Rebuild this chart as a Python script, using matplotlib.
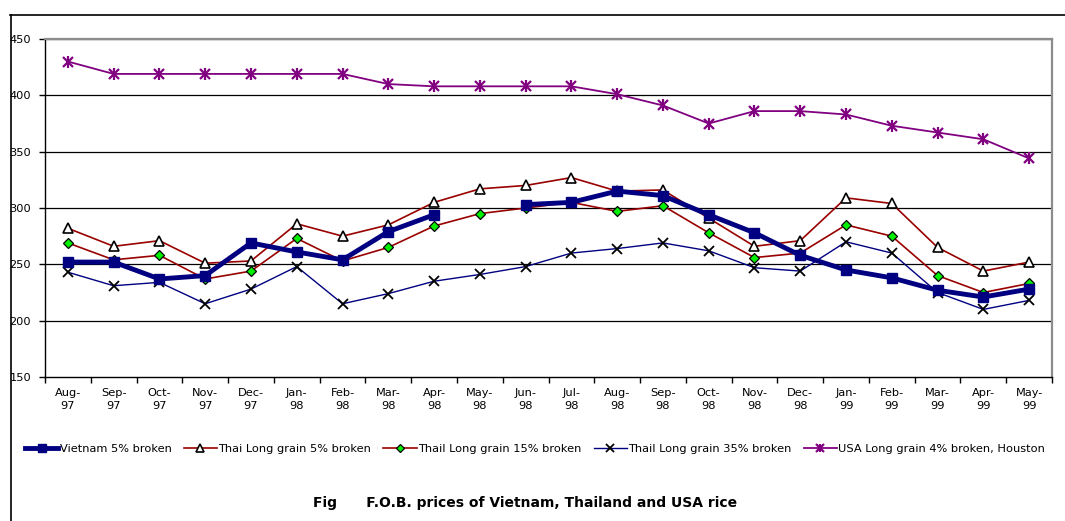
import numpy as np
import matplotlib
matplotlib.use("Agg")
import matplotlib.pyplot as plt
from matplotlib.lines import Line2D
from matplotlib.legend_handler import HandlerTuple

plt.rcParams['font.family'] = ['DejaVu Sans']

months = ["Aug-\n97", "Sep-\n97", "Oct-\n97", "Nov-\n97", "Dec-\n97",
          "Jan-\n98", "Feb-\n98", "Mar-\n98", "Apr-\n98", "May-\n98",
          "Jun-\n98", "Jul-\n98", "Aug-\n98", "Sep-\n98", "Oct-\n98",
          "Nov-\n98", "Dec-\n98", "Jan-\n99", "Feb-\n99", "Mar-\n99",
          "Apr-\n99", "May-\n99"]

vietnam_5 = [252, 252, 237, 240, 269, 261, 254, 279, 294, np.nan, 303, 305,
             315, 311, 294, 278, 258, 245, 238, 227, 221, 228]
thai_5 = [282, 266, 271, 251, 253, 286, 275, 285, 305, 317, 320, 327,
          315, 316, 291, 266, 271, 309, 304, 265, 244, 252]
thai_15 = [269, 254, 258, 237, 244, 273, 253, 265, 284, 295, 300, 305,
           297, 302, 278, 256, 260, 285, 275, 240, 225, 233]
thai_35 = [243, 231, 234, 215, 228, 248, 215, 224, 235, 241, 248, 260,
           264, 269, 262, 247, 244, 270, 260, 225, 210, 218]
usa_4 = [430, 419, 419, 419, 419, 419, 419, 410, 408, 408, 408, 408,
         401, 391, 375, 386, 386, 383, 373, 367, 361, 344]

series_names = ["Vietnam 5% broken", "Thai Long grain 5% broken",
                "Thail Long grain 15% broken", "Thail Long grain 35% broken",
                "USA Long grain 4% broken, Houston"]

fig = plt.figure(figsize=(10.65, 5.21), dpi=100)
ax = fig.add_axes([45 / 1065, 1 - 377 / 521, (1052 - 45) / 1065, (377 - 39) / 521])

x = np.arange(len(months))
navy = "#000080"
dred = "#990000"
purple = "#800080"

h_viet, = ax.plot(x, vietnam_5, color=navy, lw=3.5, marker='s', ms=7.5,
                  mfc=navy, mec=navy, zorder=6)
h_t5, = ax.plot(x, thai_5, color=dred, lw=1.2, marker='^', ms=7,
                mfc='white', mec='black', mew=1.2, zorder=4)
h_t15, = ax.plot(x, thai_15, color=dred, lw=1.2, marker='D', ms=5,
                 mfc='#00ee00', mec='black', mew=0.9, zorder=5)
h_t35, = ax.plot(x, thai_35, color=navy, lw=1.0, marker='x', ms=7,
                 mec='black', mew=1.3, zorder=4)
h_usa, = ax.plot(x, usa_4, color=purple, lw=1.3, marker='x', ms=7,
                 mec=purple, mew=1.6, zorder=4)
h_usa2, = ax.plot(x, usa_4, ls='none', marker='|', ms=8,
                  mec=purple, mew=1.6, zorder=4)

ax.set_xlim(-0.5, len(months) - 0.5)
ax.set_ylim(150, 450)
ax.set_yticks(np.arange(150, 451, 50))
ax.set_yticklabels([str(v) for v in range(150, 451, 50)], fontsize=8.2)
for v in range(200, 451, 50):
    ax.axhline(v, color='black', lw=0.9, zorder=1)

ax.set_xticks(x)
ax.set_xticklabels(months, fontsize=8.2, linespacing=1.4)
ax.set_xticks(np.arange(-0.5, len(months), 1.0), minor=True)
ax.tick_params(axis='x', which='major', length=0, pad=8)
ax.tick_params(axis='x', which='minor', length=4, direction='out', width=1)
ax.tick_params(axis='y', length=4, direction='out', width=1, pad=6)

for side in ('left', 'bottom'):
    ax.spines[side].set_color('black')
    ax.spines[side].set_linewidth(1.0)
for side in ('top', 'right'):
    ax.spines[side].set_color('#8c8c8c')
    ax.spines[side].set_linewidth(1.6)

fig.legend([h_viet, h_t5, h_t15, h_t35, (h_usa, h_usa2)], series_names,
           handler_map={tuple: HandlerTuple(ndivide=1, pad=0)},
           loc='center', bbox_to_anchor=(535 / 1065, 1 - 449 / 521),
           ncol=5, frameon=False, fontsize=8.2, handlelength=2.9,
           markerscale=0.8, handletextpad=0.1, columnspacing=1.1,
           borderaxespad=0)

fig.text(525 / 1065, 1 - 503 / 521,
         "Fig      F.O.B. prices of Vietnam, Thailand and USA rice",
         ha='center', va='center', fontsize=10, fontweight='bold')

# outer frame: top and left edges
fig.add_artist(Line2D([10 / 1065, 1.0], [1 - 15 / 521, 1 - 15 / 521],
                      transform=fig.transFigure, color='black', lw=1.2))
fig.add_artist(Line2D([11 / 1065, 11 / 1065], [0.0, 1 - 15 / 521],
                      transform=fig.transFigure, color='black', lw=1.2))

fig.savefig("out.png", dpi=100)
